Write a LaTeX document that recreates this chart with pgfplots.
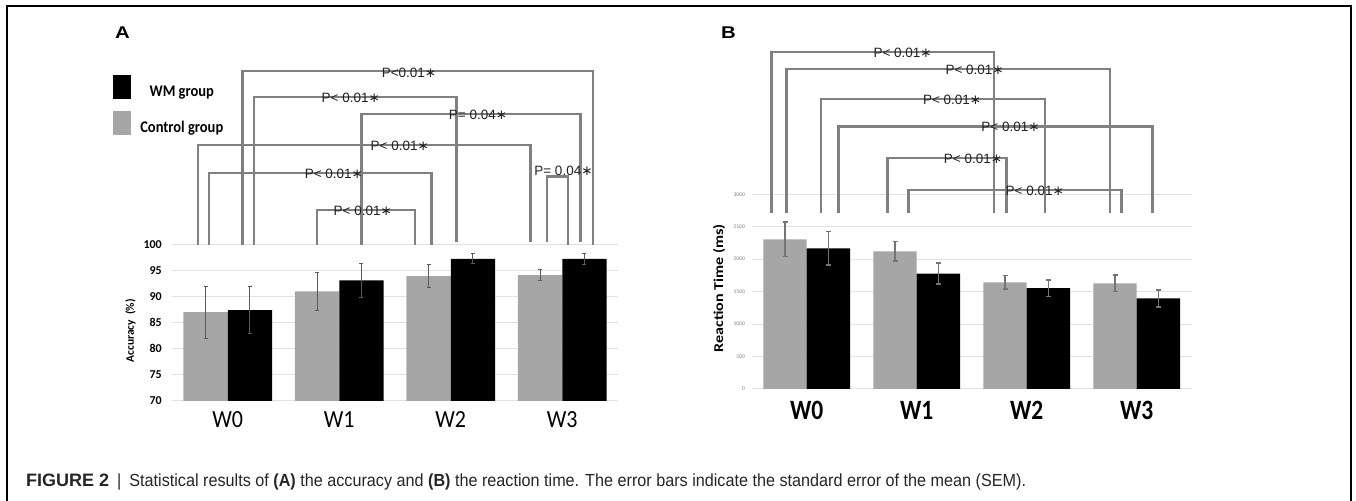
\documentclass[border=0pt]{standalone}
\usepackage{fontspec}
\setmainfont{Carlito}
\newfontfamily\arial{Liberation Sans}
\newfontfamily\arialc[FakeStretch=0.925]{Liberation Sans}
\newfontfamily\dejavu{DejaVu Sans}
\usepackage{graphicx}
\usepackage{pgfplots}
\pgfplotsset{compat=1.18}
\definecolor{barGray}{HTML}{A6A6A6}
\definecolor{brkc}{HTML}{808080}
\definecolor{gridc}{HTML}{E2E2E2}
\definecolor{errA}{HTML}{5A5A5A}
\definecolor{errB}{HTML}{747474}
\definecolor{ptext}{HTML}{222222}
\newcommand{\fs}[1]{\fontsize{#1}{#1}\selectfont}
\newcommand{\pv}[1]{{\arial\fs{13.5bp}#1{\dejavu\fs{13.5bp}∗}}}
\newcommand{\bracket}[5]{\draw[brkc, line width=2.4bp] (axis cs:#1,#4) -- (axis cs:#1,#3) -- (axis cs:#2,#3) -- (axis cs:#2,#5);}
\begin{document}
\begin{tikzpicture}
\useasboundingbox (0,0) rectangle (1356bp,501bp);
% frame
\draw[line width=1.3bp] (7bp,0) -- (7bp,495bp) -- (1351bp,495bp) -- (1351bp,0);
\node[font=\arial\bfseries\fs{17bp}] at (122.5bp,468.5bp) {\scalebox{1.2}[1]{A}};
\node[font=\arial\bfseries\fs{17bp}] at (728.5bp,468bp) {\scalebox{1.2}[1]{B}};
% ---------------- Panel A ----------------
\begin{axis}[
  at={(172bp,100bp)}, anchor=south west,
  scale only axis, width=446bp, height=156.7bp,
  xmin=-0.5, xmax=3.5, ymin=70, ymax=100,
  ytick={70,75,80,85,90,95,100},
  xtick={0,1,2,3},
  xticklabels={\scalebox{1}[1.12]{W0},\scalebox{1}[1.12]{W1},\scalebox{1}[1.12]{W2},\scalebox{1}[1.12]{W3}},
  ybar=0pt, bar width=44.3bp,
  axis line style={draw=none},
  major tick length=0pt,
  ymajorgrids, grid style={gridc, line width=1bp},
  clip mode=individual,
  /pgf/number format/assume math mode=true,
  yticklabel style={font=\bfseries\fs{12bp}, anchor=east, inner sep=0pt, xshift=-10bp},
  xticklabel style={font=\fs{22bp}, anchor=center, yshift=-19bp, inner sep=0pt},
  ylabel={Accuracy~~(\%)},
  ylabel style={font=\bfseries\fs{11.5bp}, at={(axis description cs:-0.093,0.448)}, anchor=center},
  legend style={at={(axis description cs:-0.1316,2.0804)}, anchor=north west, draw=none, fill=none,
    inner sep=0pt, outer sep=0pt, row sep=12bp, column sep=9bp, font=\bfseries\fs{14.5bp},
    nodes={inner sep=0pt}},
  legend cell align=center,
  reverse legend,
  error bars/error bar style={draw=errA, line width=1bp},
  error bars/error mark options={rotate=90, mark size=2bp, draw=errA, line width=1bp},
]
\addplot[fill=barGray, draw=none,
  legend image code/.code={\fill[barGray] (0bp,-7.5bp) rectangle (18bp,16.5bp);},
  error bars/.cd, y dir=both, y explicit]
  coordinates {(0,87.0) +- (0,4.95) (1,91.0) +- (0,3.6) (2,93.9) +- (0,2.25) (3,94.1) +- (0,1.1)};
\addlegendentry{\scalebox{1}[1.12]{Control group}}
\addplot[fill=black, draw=none,
  legend image code/.code={\fill[black] (0bp,-7.5bp) rectangle (18bp,16.5bp);},
  error bars/.cd, y dir=both, y explicit]
  coordinates {(0,87.4) +- (0,4.55) (1,93.1) +- (0,3.25) (2,97.2) +- (0,0.95) (3,97.2) +- (0,1.05)};
\addlegendentry{\scalebox{1}[1.12]{WM group}}
\bracket{0.134}{3.277}{133.2}{99.87}{99.87}
\bracket{0.238}{2.053}{128.16}{99.87}{100.5}
\bracket{1.2}{3.163}{124.96}{99.87}{100.5}
\bracket{-0.269}{2.715}{118.97}{99.87}{100.5}
\bracket{-0.170}{1.829}{113.6}{99.87}{99.87}
\bracket{0.799}{1.680}{106.57}{99.87}{99.87}
\bracket{2.865}{3.049}{112.95}{100.5}{99.87}
\node[ptext] at (axis cs:1.626,132.8) {\pv{P<0.01}};
\node[ptext] at (axis cs:1.104,128.12) {\pv{P< 0.01}};
\node[ptext] at (axis cs:2.245,124.87) {\pv{P= 0.04}};
\node[ptext] at (axis cs:1.543,118.93) {\pv{P< 0.01}};
\node[ptext] at (axis cs:0.952,113.47) {\pv{P< 0.01}};
\node[ptext] at (axis cs:1.211,106.48) {\pv{P< 0.01}};
\node[ptext] at (axis cs:3.011,113.98) {\pv{P= 0.04}};
\end{axis}
% ---------------- Panel B ----------------
\begin{axis}[
  at={(751.7bp,112bp)}, anchor=south west,
  scale only axis, width=440bp, height=194.7bp,
  xmin=-0.5, xmax=3.5, ymin=0, ymax=3000,
  ytick={0,500,1000,1500,2000,2500,3000},
  scaled y ticks=false,
  /pgf/number format/1000 sep={},
  xtick={0,1,2,3},
  xticklabels={\scalebox{1}[1.19]{W0},\scalebox{1}[1.19]{W1},\scalebox{1}[1.19]{W2},\scalebox{1}[1.19]{W3}},
  ybar=0pt, bar width=43.3bp,
  axis line style={draw=none},
  major tick length=0pt,
  ymajorgrids, grid style={gridc, line width=1bp},
  clip mode=individual,
  /pgf/number format/assume math mode=true,
  yticklabel style={font=\fs{5.5bp}, text=gray, anchor=east, inner sep=0pt, xshift=-6.7bp},
  xticklabel style={font=\bfseries\fs{23.5bp}, anchor=center, yshift=-21.5bp, inner sep=0pt},
  ylabel={\scalebox{1.19}[1]{Reaction Time (ms)}},
  ylabel style={font=\bfseries\fs{13.5bp}, at={(axis description cs:-0.0743,0.517)}, anchor=center},
  error bars/error bar style={draw=errB, line width=1.6bp},
  error bars/error mark options={rotate=90, mark size=2.5bp, draw=errB, line width=1.6bp},
]
\addplot[fill=barGray, draw=none, error bars/.cd, y dir=both, y explicit]
  coordinates {(0,2306) +- (0,265) (1,2122) +- (0,150) (2,1644) +- (0,105) (3,1628) +- (0,126)};
\addplot[fill=black, draw=none, error bars/.cd, y dir=both, y explicit]
  coordinates {(0,2168) +- (0,256) (1,1777) +- (0,160) (2,1556) +- (0,128) (3,1397) +- (0,133)};
\bracket{-0.319}{1.700}{5197}{2716}{2716}
\bracket{-0.182}{2.757}{4931}{2716}{2716}
\bracket{0.131}{2.165}{4464}{2716}{2716}
\bracket{0.289}{3.142}{4042}{2716}{2716}
\bracket{0.735}{1.816}{3555}{2716}{2716}
\bracket{0.926}{2.863}{3066}{2716}{2716}
\node[ptext] at (axis cs:0.872,5180) {\pv{P< 0.01}};
\node[ptext] at (axis cs:1.527,4923) {\pv{P< 0.01}};
\node[ptext] at (axis cs:1.322,4453) {\pv{P< 0.01}};
\node[ptext] at (axis cs:1.853,4034) {\pv{P< 0.01}};
\node[ptext] at (axis cs:1.512,3549) {\pv{P< 0.01}};
\node[ptext] at (axis cs:2.074,3048) {\pv{P< 0.01}};
\end{axis}
% caption
\node[anchor=base west, inner sep=0pt, text=black!85] at (26bp,15bp)
  {{\arial\fs{18bp}\textbf{FIGURE 2}}{\arialc\fs{17.5bp}\hspace{8bp}|\hspace{8bp}Statistical results of \textbf{(A)} the accuracy and \textbf{(B)} the reaction time. The error bars indicate the standard error of the mean (SEM).}};
\end{tikzpicture}
\end{document}
